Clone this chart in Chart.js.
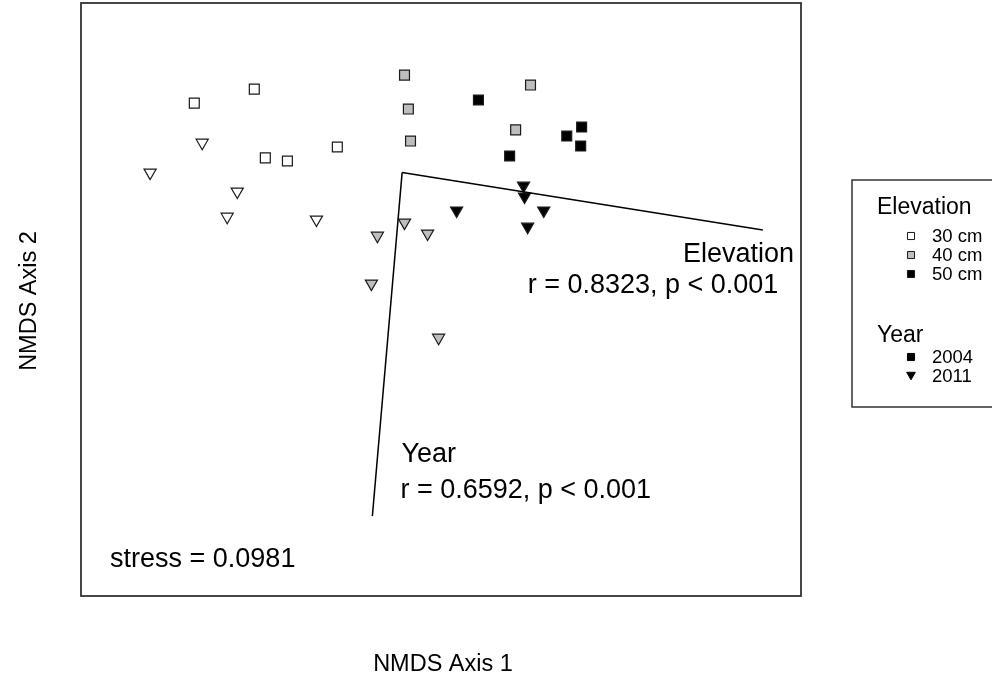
<!DOCTYPE html>
<html>
<head>
<meta charset="utf-8">
<title>NMDS ordination</title>
<script src="https://cdn.jsdelivr.net/npm/chart.js@4/dist/chart.umd.min.js"></script>
<style>
  body { margin: 0; background: #fff; }
  canvas { display: block; }
</style>
</head>
<body>
<canvas id="nmds" width="992" height="679"></canvas>
<script>
// NMDS site scores, one pair of arrays per elevation / year group
const elevations = ['30 cm', '40 cm', '50 cm'];
const years = ['2004', '2011'];

const x30_2004 = [-1.028, -0.778, -0.732, -0.640, -0.432];
const y30_2004 = [0.828, 0.887, 0.597, 0.584, 0.643];
const x30_2011 = [-1.212, -0.995, -0.849, -0.891, -0.519];
const y30_2011 = [0.535, 0.661, 0.455, 0.349, 0.337];

const x40_2004 = [-0.152, -0.136, -0.127, 0.311, 0.373];
const y40_2004 = [0.946, 0.803, 0.668, 0.715, 0.904];
const x40_2011 = [-0.265, -0.152, -0.056, -0.290, -0.010];
const y40_2011 = [0.269, 0.324, 0.278, 0.067, -0.161];

const x50_2004 = [0.156, 0.286, 0.524, 0.586, 0.582];
const y50_2004 = [0.841, 0.605, 0.689, 0.727, 0.647];
const x50_2011 = [0.344, 0.348, 0.065, 0.428, 0.361];
const y50_2011 = [0.480, 0.434, 0.375, 0.375, 0.307];

// fitted environmental vectors (envfit)
const vecOrigin = [-0.162, 0.535];
const elevationEnd = [1.341, 0.293];
const yearEnd = [-0.286, -0.913];

const elevationStat = 'r = 0.8323, p < 0.001';
const yearStat = 'r = 0.6592, p < 0.001';
const stressText = 'stress = 0.0981';

const fills = { '30 cm': '#ffffff', '40 cm': '#bebebe', '50 cm': '#000000' };

function pts(xs, ys) {
  return xs.map((x, i) => ({ x: x, y: ys[i] }));
}

function siteSet(label, xs, ys, elev, year) {
  return {
    label: label,
    data: pts(xs, ys),
    pointStyle: year === '2004' ? 'rect' : 'triangle',
    rotation: year === '2004' ? 0 : 180,
    pointRadius: 7,
    pointBackgroundColor: fills[elev],
    pointBorderColor: '#1a1a1a',
    pointBorderWidth: 1.2,
    showLine: false
  };
}

function vectorSet(label, end) {
  return {
    label: label,
    data: [{ x: vecOrigin[0], y: vecOrigin[1] }, { x: end[0], y: end[1] }],
    showLine: true,
    borderColor: '#000',
    borderWidth: 1.5,
    pointRadius: 0,
    fill: false
  };
}

const FONT = '"Liberation Sans", Arial, sans-serif';

// text placed in data coordinates
const notes = [
  { text: 'Elevation', x: 1.008, y: 0.158 },
  { text: elevationStat, x: 0.361, y: 0.027 },
  { text: 'Year', x: -0.165, y: -0.685 },
  { text: yearStat, x: -0.169, y: -0.837 },
  { text: stressText, x: -1.379, y: -1.128 }
];

const decorPlugin = {
  id: 'decor',
  afterDraw(chart) {
    const ctx = chart.ctx;
    const a = chart.chartArea;
    const sx = chart.scales.x, sy = chart.scales.y;
    ctx.save();

    // plot box
    ctx.strokeStyle = '#333';
    ctx.lineWidth = 1.8;
    ctx.strokeRect(a.left, a.top, a.right - a.left, a.bottom - a.top);

    // annotations
    ctx.fillStyle = '#000';
    ctx.font = '27px ' + FONT;
    ctx.textAlign = 'left';
    ctx.textBaseline = 'alphabetic';
    notes.forEach(n => {
      ctx.fillText(n.text, sx.getPixelForValue(n.x), sy.getPixelForValue(n.y));
    });

    // axis titles
    ctx.font = '23.5px ' + FONT;
    ctx.textAlign = 'center';
    ctx.textBaseline = 'middle';
    ctx.fillText('NMDS Axis 1', 443, 665);
    ctx.save();
    ctx.translate(30, 301);
    ctx.rotate(-Math.PI / 2);
    ctx.fillText('NMDS Axis 2', 0, 0);
    ctx.restore();

    // legend
    ctx.strokeStyle = '#333';
    ctx.lineWidth = 1.5;
    ctx.strokeRect(852, 180, 200, 227);
    ctx.textAlign = 'left';
    ctx.textBaseline = 'alphabetic';
    ctx.font = '23px ' + FONT;
    ctx.fillText('Elevation', 877, 214);
    ctx.fillText('Year', 877, 342);

    const drawPoint = Chart.helpers.drawPoint;
    ctx.font = '18.5px ' + FONT;
    elevations.forEach((e, i) => {
      const y = 236 + i * 19;
      ctx.fillStyle = fills[e];
      ctx.strokeStyle = '#1a1a1a';
      ctx.lineWidth = 1;
      drawPoint(ctx, { pointStyle: 'rect', rotation: 0, radius: 5, borderWidth: 1 }, 911, y);
      ctx.fillStyle = '#000';
      ctx.fillText(e, 932, y + 6);
    });
    years.forEach((yr, i) => {
      const y = 357 + i * 19;
      ctx.fillStyle = '#000';
      ctx.strokeStyle = '#000';
      ctx.lineWidth = 1;
      const style = i === 0 ? 'rect' : 'triangle';
      const yy = i === 0 ? y : y - 1.2;
      drawPoint(ctx, { pointStyle: style, rotation: i === 0 ? 0 : 180, radius: 5, borderWidth: 1 }, 911, yy);
      ctx.fillStyle = '#000';
      ctx.fillText(yr, 932, y + 6);
    });

    ctx.restore();
  }
};

new Chart(document.getElementById('nmds'), {
  type: 'scatter',
  data: {
    datasets: [
      vectorSet('Elevation vector', elevationEnd),
      vectorSet('Year vector', yearEnd),
      siteSet('30 cm 2004', x30_2004, y30_2004, '30 cm', '2004'),
      siteSet('30 cm 2011', x30_2011, y30_2011, '30 cm', '2011'),
      siteSet('40 cm 2004', x40_2004, y40_2004, '40 cm', '2004'),
      siteSet('40 cm 2011', x40_2011, y40_2011, '40 cm', '2011'),
      siteSet('50 cm 2004', x50_2004, y50_2004, '50 cm', '2004'),
      siteSet('50 cm 2011', x50_2011, y50_2011, '50 cm', '2011')
    ]
  },
  options: {
    responsive: false,
    animation: false,
    layout: { autoPadding: false, padding: { left: 81, right: 191, top: 3, bottom: 83 } },
    scales: {
      x: { type: 'linear', display: false, min: -1.5, max: 1.5 },
      y: { type: 'linear', display: false, min: -1.25, max: 1.25 }
    },
    plugins: {
      legend: { display: false },
      tooltip: { enabled: false }
    }
  },
  plugins: [decorPlugin]
});
</script>
</body>
</html>
